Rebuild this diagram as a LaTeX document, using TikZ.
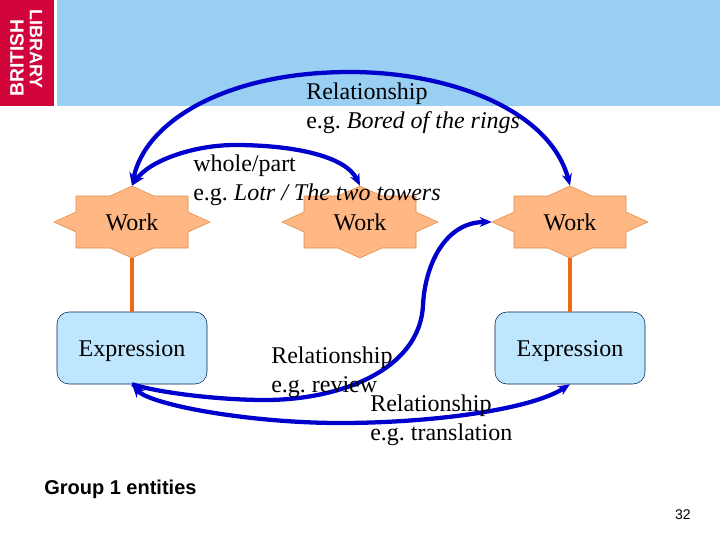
\documentclass[tikz,border=0pt]{standalone}
\usepackage{fontspec}
\setmainfont{Liberation Serif}
\setsansfont{Liberation Sans}
\usepackage{tikz}
\usetikzlibrary{arrows.meta,positioning,calc}
\definecolor{headblue}{HTML}{99CFF3}
\definecolor{logored}{HTML}{D0043A}
\definecolor{starfill}{HTML}{FFB784}
\definecolor{starline}{HTML}{E08A45}
\definecolor{exprfill}{HTML}{BFE6FF}
\definecolor{exprline}{HTML}{00204F}
\definecolor{linkblue}{HTML}{0000CC}
\definecolor{treeorange}{HTML}{EE6A14}

\newcommand{\worknode}[2]{%
  \draw[starline, fill=starfill] ($(#2)+(0,-36)$) -- ++(22,10) -- ++(34,0) -- ++(0,16) -- ++(22,10)
    -- ++(-22,10) -- ++(0,16) -- ++(-34,0) -- ++(-22,10) -- ++(-22,-10) -- ++(-34,0) -- ++(0,-16)
    -- ++(-22,-10) -- ++(22,-10) -- ++(0,-16) -- ++(34,0) -- cycle;
  \node[workbox] (#1) at (#2) {Work};
}

\begin{document}
\frenchspacing
\begin{tikzpicture}[
        x=0.75pt, y=-0.75pt,
        workbox/.style={minimum width=117pt, minimum height=54pt, inner sep=0pt, text height=17pt, text depth=4pt, font=\fontsize{18}{21.75}\selectfont},
        exprbox/.style={rectangle, draw=exprline, fill=exprfill, rounded corners=9pt, minimum width=112.5pt, minimum height=54pt, inner sep=0pt, text height=17pt, text depth=4pt, font=\fontsize{18}{21.75}\selectfont},
        tag/.style={align=left, inner sep=0pt, anchor=north west, font=\fontsize{18}{21.75}\selectfont},
        link/.style={{Stealth[length=10pt,width=8pt]}-{Stealth[length=9pt,width=7.5pt]}, linkblue, line width=3.2pt},
        oneway/.style={-{Stealth[length=9pt,width=7.5pt]}, linkblue, line width=3.2pt},
        tie/.style={treeorange, line width=3pt}
    ]

    \useasboundingbox (0,0) rectangle (720,540);

    % header band
    \fill[logored] (0,0) rectangle (54,106);
    \fill[headblue] (57,0) rectangle (720,106);
    \node[white, rotate=90, font=\sffamily\bfseries\fontsize{14.5}{15}\selectfont, inner sep=0pt] (british) at (17,58) {BRITISH};
    \node[white, rotate=-90, font=\sffamily\bfseries\fontsize{13.5}{15}\selectfont, inner sep=0pt] (library) at (36,49) {LIBRARY};

    \worknode{workA}{132,222}
    \worknode{workB}{360,222}
    \worknode{workC}{570,222}

    \node[exprbox] (exprA) at (132,348) {Expression};
    \node[exprbox] (exprB) at (570,348) {Expression};

    \draw[tie] (workA) -- (exprA);
    \draw[tie] (workC) -- (exprB);

    \draw[link] (workA.north) .. controls (145,122) and (225,72) .. (350,72) .. controls (450,72) and (550,110) .. (workC.north);
    \draw[link] (workA.north) .. controls (150,160) and (195,145) .. (235,145) .. controls (290,145) and (345,155) .. (workB.north);
    \draw[link] (exprA.south) .. controls (150,405) and (250,423) .. (340,423) .. controls (430,423) and (530,410) .. (exprB.south);
    \draw[oneway] (exprA.south) .. controls (160,393) and (220,400) .. (265,400) .. controls (340,400) and (420,370) .. (423,305) .. controls (425,265) and (445,222) .. (workC.west);

    \node[tag] (rel) at (306,83) {Relationship\\e.g. \textit{Bored of the rings}};
    \node[tag] (part) at (193,155) {whole/part\\e.g. \textit{Lotr / The two towers}};
    \node[tag] (review) at (271,347) {Relationship\\e.g. review};
    \node[tag] (trans) at (370,395) {Relationship\\e.g. translation};

    \node[inner sep=0pt, anchor=west, font=\sffamily\bfseries\fontsize{15}{17}\selectfont] (group) at (44,489) {Group 1 entities};
    \node[inner sep=0pt, anchor=east, font=\sffamily\fontsize{10.5}{12}\selectfont] (pageno) at (691,515) {32};

\end{tikzpicture}
\end{document}
